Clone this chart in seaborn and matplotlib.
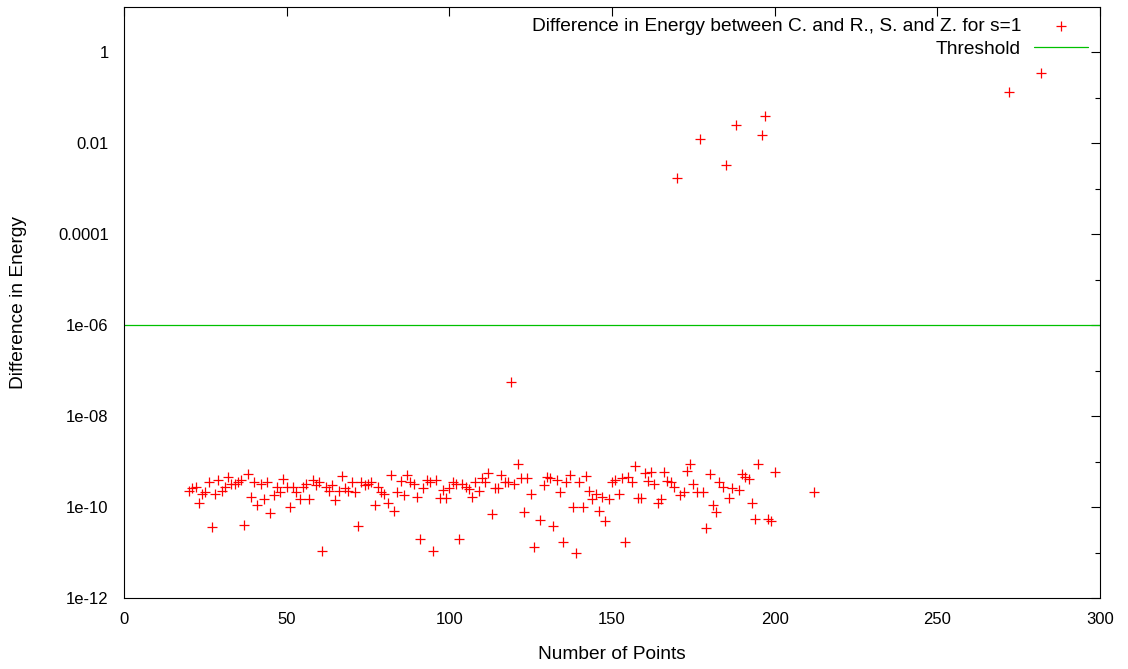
import numpy as np
import pandas as pd
import matplotlib
matplotlib.use("Agg")
import matplotlib.pyplot as plt
import seaborn as sns
from matplotlib.ticker import FixedLocator, FixedFormatter, NullFormatter

# ---------------- data ----------------
n_points = (list(range(20, 127)) + list(range(128, 201)) + [212, 272, 282])

energy_diff = [
    # 20-29
    2.3e-10, 2.6e-10, 2.8e-10, 1.2e-10, 1.9e-10, 2.2e-10, 3.5e-10, 3.7e-11, 1.9e-10, 3.9e-10,
    # 30-39
    2.3e-10, 2.8e-10, 4.7e-10, 3.3e-10, 3.3e-10, 3.6e-10, 4.0e-10, 4.1e-11, 5.4e-10, 1.7e-10,
    # 40-49
    3.6e-10, 1.1e-10, 3.2e-10, 1.5e-10, 3.5e-10, 7.4e-11, 1.8e-10, 2.7e-10, 2.1e-10, 4.2e-10,
    # 50-59
    2.8e-10, 9.8e-11, 2.7e-10, 2.2e-10, 1.5e-10, 2.8e-10, 3.3e-10, 1.5e-10, 3.9e-10, 3.0e-10,
    # 60-69
    3.6e-10, 1.07e-11, 2.8e-10, 2.3e-10, 3.0e-10, 1.4e-10, 2.3e-10, 4.9e-10, 2.6e-10, 2.3e-10,
    # 70-79
    3.5e-10, 2.2e-10, 3.8e-11, 3.5e-10, 3.0e-10, 3.3e-10, 3.6e-10, 1.1e-10, 2.8e-10, 2.2e-10,
    # 80-89
    1.9e-10, 1.2e-10, 5.1e-10, 8.3e-11, 2.1e-10, 3.8e-10, 1.8e-10, 5.0e-10, 3.5e-10, 3.2e-10,
    # 90-99
    1.7e-10, 2.0e-11, 2.6e-10, 4.0e-10, 3.6e-10, 1.1e-11, 3.9e-10, 1.6e-10, 2.4e-10, 1.6e-10,
    # 100-109
    2.6e-10, 3.6e-10, 3.2e-10, 2.0e-11, 3.3e-10, 2.7e-10, 2.5e-10, 1.7e-10, 3.5e-10, 2.3e-10,
    # 110-119
    4.3e-10, 3.6e-10, 5.5e-10, 7.1e-11, 2.6e-10, 2.6e-10, 5.0e-10, 3.5e-10, 3.5e-10, 5.6e-08,
    # 120-126
    3.3e-10, 8.9e-10, 4.3e-10, 7.9e-11, 4.3e-10, 1.9e-10, 1.3e-11,
    # 128-129
    5.1e-11, 3.1e-10,
    # 130-139
    4.7e-10, 4.3e-10, 3.8e-11, 4.0e-10, 2.1e-10, 1.7e-11, 3.5e-10, 5.0e-10, 9.8e-11, 1.0e-11,
    # 140-149
    3.5e-10, 1.0e-10, 4.9e-10, 2.3e-10, 1.5e-10, 1.9e-10, 8.3e-11, 1.7e-10, 5.0e-11, 1.5e-10,
    # 150-159
    3.6e-10, 4.0e-10, 1.9e-10, 4.3e-10, 1.7e-11, 4.7e-10, 3.5e-10, 8.1e-10, 1.55e-10, 1.55e-10,
    # 160-169
    5.6e-10, 3.8e-10, 5.8e-10, 3.2e-10, 1.2e-10, 1.5e-10, 5.8e-10, 3.8e-10, 3.5e-10, 2.8e-10,
    # 170-179
    1.7e-03, 1.8e-10, 2.1e-10, 6.3e-10, 8.9e-10, 3.2e-10, 2.1e-10, 1.23e-02, 2.2e-10, 3.4e-11,
    # 180-189
    5.4e-10, 1.1e-10, 7.9e-11, 3.5e-10, 2.7e-10, 3.3e-03, 1.6e-10, 2.6e-10, 2.6e-02, 2.4e-10,
    # 190-200
    5.4e-10, 4.5e-10, 4.2e-10, 1.2e-10, 5.6e-11, 8.9e-10, 1.55e-02, 4.1e-02, 5.6e-11, 5.0e-11,
    5.8e-10,
    # 212, 272, 282
    2.1e-10, 0.135, 0.35,
]

threshold = 1e-06

series_label = "Difference in Energy between C. and R., S. and Z. for s=1"
threshold_label = "Threshold"
x_label = "Number of Points"
y_label = "Difference in Energy"

x_ticks = [0, 50, 100, 150, 200, 250, 300]
x_tick_labels = ["0", "50", "100", "150", "200", "250", "300"]
y_ticks = [1e-12, 1e-10, 1e-08, 1e-06, 1e-04, 1e-02, 1]
y_tick_labels = ["1e-12", "1e-10", "1e-08", "1e-06", "0.0001", "0.01", "1"]
y_minor_ticks = [1e-11, 1e-09, 1e-07, 1e-05, 1e-03, 1e-01]

# ---------------- plotting ----------------
sns.set_theme(style="white")
plt.rcParams['font.family'] = ['Liberation Sans', 'DejaVu Sans']
plt.rcParams['axes.linewidth'] = 0.8
plt.rcParams['text.color'] = 'black'

W, H = 1128, 669
fig = plt.figure(figsize=(W / 100, H / 100), dpi=100)
left, right, top, bottom = 124, 1100, 7, 598
ax = fig.add_axes([left / W, 1 - bottom / H, (right - left) / W, (bottom - top) / H])

df = pd.DataFrame({"n": n_points, "diff": energy_diff})
sns.scatterplot(data=df, x="n", y="diff", marker="+", color="#ff0000",
                s=48, linewidth=0.9, ax=ax, label=series_label, legend=False)
ax.axhline(threshold, color="#00c000", lw=0.9, label=threshold_label)

ax.set_yscale("log")
ax.set_xlim(0, 300)
ax.set_ylim(1e-12, 10)

ax.xaxis.set_major_locator(FixedLocator(x_ticks))
ax.xaxis.set_major_formatter(FixedFormatter(x_tick_labels))
ax.yaxis.set_major_locator(FixedLocator(y_ticks))
ax.yaxis.set_major_formatter(FixedFormatter(y_tick_labels))
ax.yaxis.set_minor_locator(FixedLocator(y_minor_ticks))
ax.yaxis.set_minor_formatter(NullFormatter())
ax.xaxis.set_minor_locator(FixedLocator([]))

fs = 12
fs_text = 13.8
ax.tick_params(which="both", direction="in", top=True, right=True,
               colors="black", labelsize=fs, width=0.8)
ax.tick_params(which="major", length=6.5)
ax.tick_params(which="minor", length=3.5)
ax.tick_params(axis="x", which="major", pad=10)
ax.tick_params(axis="y", which="major", pad=11)

for sp in ax.spines.values():
    sp.set_color("black")
    sp.set_linewidth(0.8)

ax.set_xlabel(x_label, fontsize=fs_text, color="black")
ax.set_ylabel(y_label, fontsize=fs_text, color="black")
ax.xaxis.set_label_coords(0.5, -0.082)
ax.yaxis.set_label_coords(-0.099, 0.5)
ax.grid(False)

leg = ax.legend(loc="upper right", bbox_to_anchor=(1 - 12 / 976, 1 - 11 / 591),
                frameon=False, markerfirst=False, fontsize=fs_text,
                handlelength=2.8, handletextpad=0.7, labelspacing=0.27,
                borderpad=0, borderaxespad=0, scatterpoints=1)
for t in leg.get_texts():
    t.set_color("black")

fig.savefig("out.png", dpi=100)
